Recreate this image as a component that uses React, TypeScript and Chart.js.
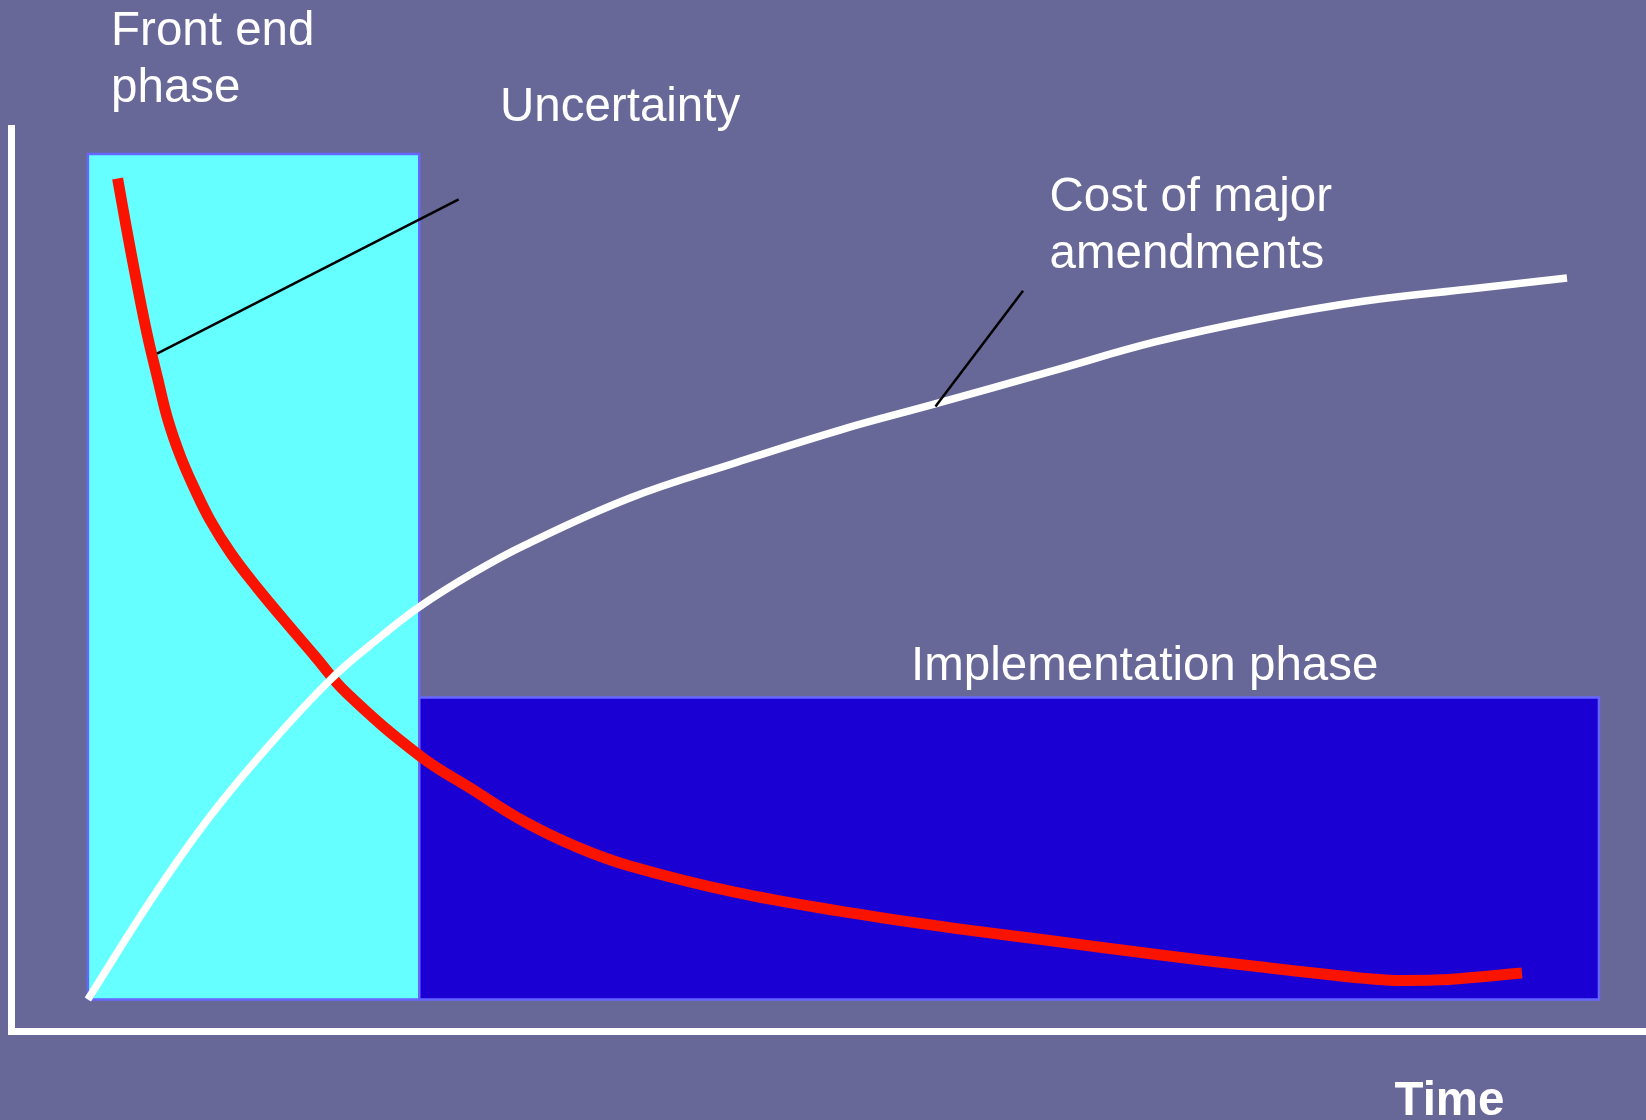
import React, { useEffect, useRef } from "react";
import { Chart, registerables } from "chart.js";

Chart.register(...registerables);

// Uncertainty curve (red)
const uncertaintyX = [1.91, 2.45, 3.12, 3.8, 4.47, 5.14, 5.95, 6.83, 7.83, 9.18, 10.87, 12.55, 14.57, 16.59, 21.31, 24.68, 28.05, 31.41, 34.78, 41.52, 48.26, 54.99, 61.73, 68.47, 75.2, 81.94, 83.95, 87.33, 92.04];
const uncertaintyY = [93.88, 88.49, 82.13, 76.12, 71.08, 66.28, 62.08, 58.48, 54.88, 51.03, 47.08, 43.48, 39.27, 35.07, 27.87, 24.03, 20.31, 17.43, 15.27, 12.27, 10.11, 8.31, 6.75, 5.18, 3.74, 2.42, 2.18, 2.3, 3.03];

// Cost of major amendments curve (white)
const costX = [0, 4.05, 7.52, 10.98, 15.54, 19.01, 21.25, 24.72, 28.05, 34.79, 41.53, 48.27, 54.37, 61.75, 68.49, 75.22, 81.96, 88.7, 94.93];
const costY = [0, 11.38, 20.18, 27.73, 36.53, 41.8, 44.88, 48.77, 51.97, 57.35, 61.35, 65.12, 68.1, 71.8, 75.19, 77.82, 79.87, 81.25, 82.5];

// Phase blocks (closed outlines)
const frontEndX = [0, 0, 21.27, 21.27, 0];
const frontEndY = [0, 96.68, 96.68, 0, 0];
const implementationX = [21.27, 21.27, 96.98, 96.98, 21.27];
const implementationY = [0, 34.53, 34.53, 0, 0];

// Callout leader lines
const uncertaintyLeaderX = [4.44, 23.8];
const uncertaintyLeaderY = [73.87, 91.49];
const costLeaderX = [54.4, 60.02];
const costLeaderY = [67.81, 81.04];

// Text labels (data units: left x, baseline y)
const labelTexts = ["Front end", "phase", "Uncertainty", "Cost of major", "amendments", "Implementation phase", "Time"];
const labelX = [1.49, 1.49, 26.45, 61.72, 61.72, 52.83, 83.86];
const labelY = [109.2, 102.6, 100.46, 90.11, 83.61, 36.48, -13.21];
const labelBold = [false, false, false, false, false, false, true];

const BG = "#686898";

const zip = (xs: number[], ys: number[]) => xs.map((x, i) => ({ x, y: ys[i] }));

export default function App() {
  const ref = useRef<HTMLCanvasElement | null>(null);

  useEffect(() => {
    document.body.style.margin = "0";
    document.body.style.background = BG;
    const canvas = ref.current;
    if (!canvas) return;

    const bgPlugin = {
      id: "bg",
      beforeDraw(chart: any) {
        const ctx = chart.ctx;
        ctx.save();
        ctx.fillStyle = BG;
        ctx.fillRect(0, 0, chart.width, chart.height);
        ctx.restore();
      },
    };

    const labelPlugin = {
      id: "labels",
      afterDraw(chart: any) {
        const ctx = chart.ctx;
        const xs = chart.scales.x;
        const ys = chart.scales.y;
        ctx.save();
        ctx.fillStyle = "#ffffff";
        ctx.textAlign = "left";
        ctx.textBaseline = "alphabetic";
        labelTexts.forEach((t, i) => {
          ctx.font = `${labelBold[i] ? "bold " : ""}47.5px "Liberation Sans", Arial, sans-serif`;
          ctx.fillText(t, xs.getPixelForValue(labelX[i]), ys.getPixelForValue(labelY[i]));
        });
        ctx.restore();
      },
    };

    const chart = new Chart(canvas, {
      type: "line",
      data: {
        datasets: [
          {
            data: zip(uncertaintyLeaderX, uncertaintyLeaderY),
            borderColor: "#000000",
            borderWidth: 2.5,
            pointRadius: 0,
            tension: 0,
            fill: false,
            order: 0,
          },
          {
            data: zip(costLeaderX, costLeaderY),
            borderColor: "#000000",
            borderWidth: 2.5,
            pointRadius: 0,
            tension: 0,
            fill: false,
            order: 0,
          },
          {
            data: zip(costX, costY),
            borderColor: "#ffffff",
            borderWidth: 7.5,
            borderCapStyle: "butt",
            pointRadius: 0,
            tension: 0.4,
            fill: false,
            order: 1,
          },
          {
            data: zip(uncertaintyX, uncertaintyY),
            borderColor: "#FA1400",
            borderWidth: 11,
            borderCapStyle: "butt",
            pointRadius: 0,
            tension: 0.4,
            fill: false,
            order: 2,
          },
          {
            data: zip(implementationX, implementationY),
            borderColor: "#6666FF",
            backgroundColor: "#1B00D4",
            borderWidth: 2.5,
            pointRadius: 0,
            tension: 0,
            fill: "shape",
            order: 3,
          },
          {
            data: zip(frontEndX, frontEndY),
            borderColor: "#6666FF",
            backgroundColor: "#66FFFF",
            borderWidth: 2.5,
            pointRadius: 0,
            tension: 0,
            fill: "shape",
            order: 4,
          },
        ],
      },
      options: {
        responsive: false,
        animation: false,
        events: [],
        devicePixelRatio: 1,
        layout: { padding: { left: 11.5, top: 128.5, right: 0, bottom: 89 } },
        plugins: { legend: { display: false }, tooltip: { enabled: false }, title: { display: false } },
        scales: {
          x: {
            type: "linear",
            min: -4.9,
            max: 100,
            grid: { display: false, drawTicks: false },
            ticks: { display: false },
            border: { display: true, color: "#ffffff", width: 7 },
          },
          y: {
            type: "linear",
            min: -3.6,
            max: 99.6,
            grid: { display: false, drawTicks: false },
            ticks: { display: false },
            border: { display: true, color: "#ffffff", width: 7 },
          },
        },
      } as any,
      plugins: [bgPlugin, labelPlugin],
    });

    return () => chart.destroy();
  }, []);

  return (
    <div style={{ width: 1646, height: 1120, background: BG }}>
      <canvas ref={ref} width={1646} height={1120} style={{ display: "block", width: 1646, height: 1120 }} />
    </div>
  );
}
